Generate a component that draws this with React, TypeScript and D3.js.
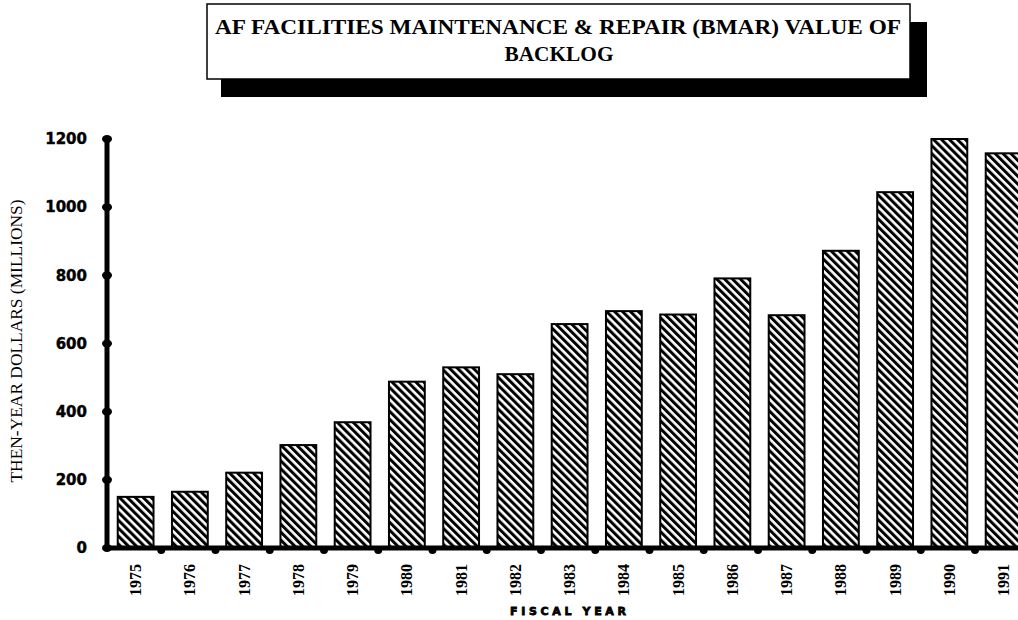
import React from "react";
import * as d3 from "d3";

const years = ["1975","1976","1977","1978","1979","1980","1981","1982","1983","1984","1985","1986","1987","1988","1989","1990","1991"];
const values = [150, 165, 221, 302, 369, 488, 530, 510, 657, 695, 685, 791, 683, 872, 1044, 1200, 1158];
const yTicks = [0, 200, 400, 600, 800, 1000, 1200];
const titleLines = ["AF FACILITIES MAINTENANCE & REPAIR (BMAR) VALUE OF", "BACKLOG"];
const yLabel = "THEN-YEAR DOLLARS (MILLIONS)";
const xLabel = "FISCAL YEAR";

export default function App() {
  const W = 1018, H = 620;
  const x0 = 107;
  const x = d3.scaleBand<string>().domain(years).range([x0, x0 + 17 * 54.25]).paddingInner(0.34).paddingOuter(0.17);
  const y = d3.scaleLinear().domain([0, 1200]).range([548, 139]);
  const step = x.step();
  const dotXs = years.map((_, i) => x0 + (i + 1) * step);
  const shift = 1.5;

  return (
    <svg width={W} height={H} style={{ position: "absolute", left: 0, top: 0, background: "#fff" }}>
      <defs>
        <pattern id="hatch" patternUnits="userSpaceOnUse" width="5.6" height="5.6" patternTransform="rotate(-45)">
          <rect width="5.6" height="5.6" fill="#fff" />
          <rect x="0" y="0" width="3" height="5.6" fill="#000" />
        </pattern>
      </defs>
      <rect width={W} height={H} fill="#fff" />
      {/* Title box */}
      <rect x={221} y={22} width={706} height={75} fill="#000" />
      <rect x={207} y={4} width={703} height={75} fill="#fff" stroke="#000" strokeWidth={1.5} />
      <text x={558} y={34} textAnchor="middle" fontFamily="'Liberation Serif', 'Times New Roman', serif" fontWeight="bold" fontSize={21} textLength={686} lengthAdjust="spacingAndGlyphs">{titleLines[0]}</text>
      <text x={559} y={61} textAnchor="middle" fontFamily="'Liberation Serif', 'Times New Roman', serif" fontWeight="bold" fontSize={21} textLength={109} lengthAdjust="spacingAndGlyphs">{titleLines[1]}</text>
      {/* Bars */}
      {years.map((yr, i) => (
        <rect key={yr} x={(x(yr) as number) + shift} y={y(values[i])} width={x.bandwidth()} height={548 - y(values[i])} fill="url(#hatch)" stroke="#000" strokeWidth={2} />
      ))}
      {/* Axes */}
      <line x1={x0} x2={W} y1={548} y2={548} stroke="#000" strokeWidth={5} />
      <line x1={x0} x2={x0} y1={139} y2={548} stroke="#000" strokeWidth={5} />
      {yTicks.map(t => (
        <g key={t}>
          <ellipse cx={x0} cy={y(t)} rx={5} ry={4} fill="#000" />
          <text x={87} y={y(t)} dy="0.35em" textAnchor="end" fontFamily="'DejaVu Sans', sans-serif" fontWeight="bold" fontSize={15} stroke="#000" strokeWidth={0.4}>{t}</text>
        </g>
      ))}
      {dotXs.map((dx, i) => (
        <circle key={i} cx={dx} cy={550} r={4} fill="#000" />
      ))}
      {years.map(yr => {
        const cx = (x(yr) as number) + x.bandwidth() / 2 + shift;
        return (
          <text key={yr} transform={`translate(${cx},564) rotate(-90)`} textAnchor="end" dy="0.35em" fontFamily="'Liberation Serif', serif" fontWeight="bold" fontSize={16}>{yr}</text>
        );
      })}
      <text transform={`translate(22,341) rotate(-90)`} textAnchor="middle" fontFamily="'Liberation Serif', serif" fontSize={16} textLength={283} lengthAdjust="spacingAndGlyphs">{yLabel}</text>
      <text x={568} y={615} textAnchor="middle" fontFamily="'DejaVu Sans', sans-serif" fontWeight="900" fontSize={11} stroke="#000" strokeWidth={0.8} textLength={116} lengthAdjust="spacing">{xLabel}</text>
    </svg>
  );
}
